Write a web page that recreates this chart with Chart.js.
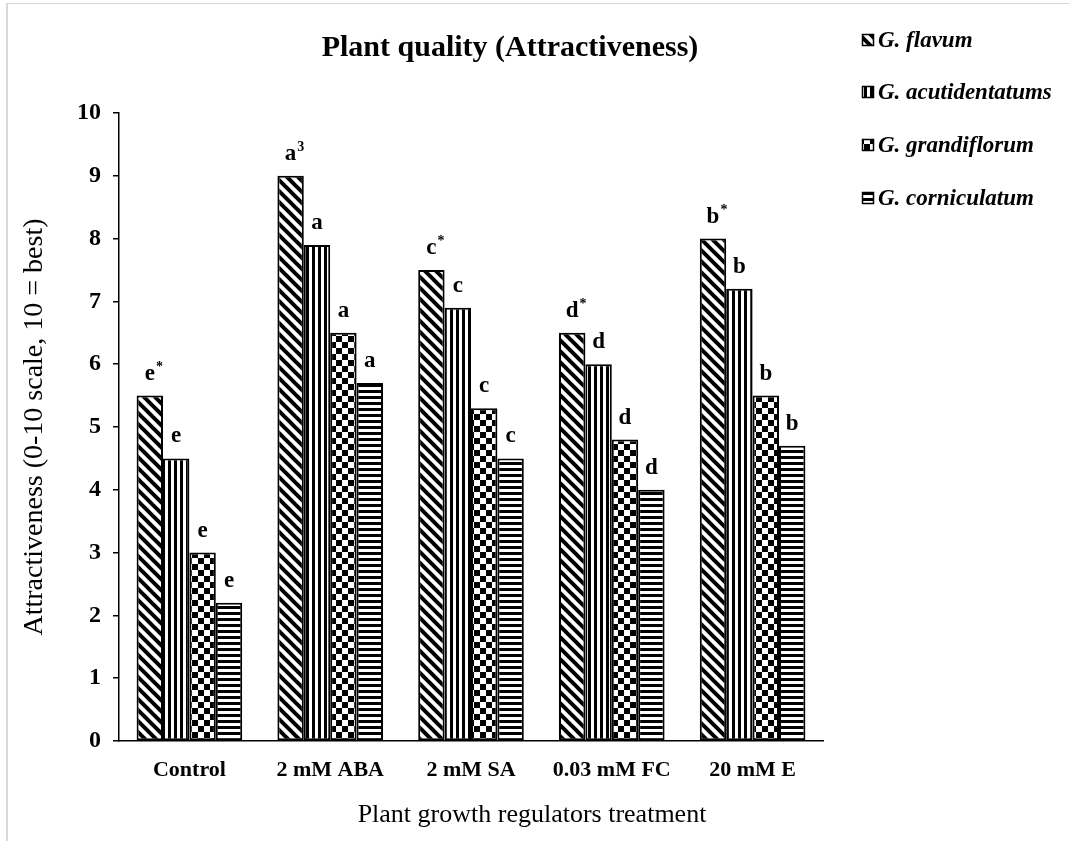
<!DOCTYPE html>
<html>
<head>
<meta charset="utf-8">
<script src="https://cdn.jsdelivr.net/npm/chart.js@4.4.1/dist/chart.umd.min.js"></script>
<style>
  html, body { margin: 0; padding: 0; background: #fff; overflow: hidden; }
  #frame { position: absolute; left: 6px; top: 3px; width: 1200px; height: 1000px;
           border-left: 2px solid #d9d9d9; border-top: 1px solid #d9d9d9; box-sizing: border-box; }
  #chart { position: absolute; left: 0; top: 0; }
</style>
</head>
<body>
<div id="frame"></div>
<canvas id="chart" width="1070" height="841"></canvas>
<script>
// Treatments and species
const treatments = ['Control', '2 mM ABA', '2 mM SA', '0.03 mM FC', '20 mM E'];
const species = ['G. flavum', 'G. acutidentatums', 'G. grandiflorum', 'G. corniculatum'];

// Attractiveness scores (0-10) per species, one value per treatment
const flavum = [5.5, 9.0, 7.5, 6.5, 8.0];
const acutidentatums = [4.5, 7.9, 6.9, 6.0, 7.2];
const grandiflorum = [3.0, 6.5, 5.3, 4.8, 5.5];
const corniculatum = [2.2, 5.7, 4.5, 4.0, 4.7];

// Significance letters per treatment; first species also carries a superscript mark
const groupLetters = ['e', 'a', 'c', 'd', 'b'];
const flavumMarks = ['*', '3', '*', '*', '*'];

const yTicks = [0, 1, 2, 3, 4, 5, 6, 7, 8, 9, 10];

const SERIF = '"Liberation Serif", "Times New Roman", serif';

// ---- fill patterns ----
function makeTile(w, h, draw) {
  const c = document.createElement('canvas');
  c.width = w; c.height = h;
  const g = c.getContext('2d');
  g.fillStyle = '#fff'; g.fillRect(0, 0, w, h);
  g.fillStyle = '#000'; g.strokeStyle = '#000';
  draw(g, w, h);
  return document.getElementById('chart').getContext('2d').createPattern(c, 'repeat');
}
const diagPattern = makeTile(11, 11, (g, w, h) => {
  g.lineWidth = 4;
  g.lineCap = 'square';
  for (const off of [-w, 0, w]) {
    g.beginPath(); g.moveTo(off, 0); g.lineTo(off + w, h); g.stroke();
  }
});
const vertPattern = makeTile(6, 6, (g) => { g.fillRect(0, 0, 3, 6); });
const checkPattern = makeTile(12, 12, (g) => { g.fillRect(0, 0, 6, 6); g.fillRect(6, 6, 6, 6); });
const horizPattern = makeTile(6, 6, (g) => { g.fillRect(0, 0, 6, 3); });

const patterns = [diagPattern, vertPattern, checkPattern, horizPattern];
const seriesValues = [flavum, acutidentatums, grandiflorum, corniculatum];

// ---- plugins: title, legend, value letters, x-axis title ----
const decorations = {
  id: 'decorations',
  afterDraw(chart) {
    const ctx = chart.ctx;
    ctx.save();
    // main title
    ctx.fillStyle = '#000';
    ctx.font = 'bold 30px ' + SERIF;
    ctx.textAlign = 'center';
    ctx.textBaseline = 'middle';
    ctx.fillText('Plant quality (Attractiveness)', 510, 48);

    // x-axis title
    ctx.font = '26px ' + SERIF;
    ctx.fillText('Plant growth regulators treatment', 532, 815);

    // legend
    const legendY = [40, 92, 145, 198];
    chart.data.datasets.forEach((ds, i) => {
      const y = legendY[i];
      ctx.fillStyle = ds.backgroundColor;
      ctx.fillRect(862, y - 6, 12, 12);
      ctx.strokeStyle = '#000';
      ctx.lineWidth = 1.5;
      ctx.strokeRect(862.5, y - 5.5, 11, 11);
      ctx.fillStyle = '#000';
      ctx.font = 'italic bold 23px ' + SERIF;
      ctx.textAlign = 'left';
      ctx.textBaseline = 'middle';
      ctx.fillText(ds.label, 878, y + 1);
    });
    ctx.restore();
  },
  afterDatasetsDraw(chart) {
    const ctx = chart.ctx;
    ctx.save();
    ctx.fillStyle = '#000';
    ctx.textBaseline = 'alphabetic';
    chart.data.datasets.forEach((ds, di) => {
      const meta = chart.getDatasetMeta(di);
      meta.data.forEach((bar, i) => {
        const letter = groupLetters[i];
        const base = bar.y - 16;
        ctx.font = 'bold 23px ' + SERIF;
        ctx.textAlign = 'center';
        ctx.fillText(letter, bar.x, base);
        if (di === 0) {
          const w = ctx.measureText(letter).width;
          ctx.font = 'bold 14px ' + SERIF;
          ctx.textAlign = 'left';
          ctx.fillText(flavumMarks[i], bar.x + w / 2 + 1, base - 9);
        }
      });
    });
    ctx.restore();
  }
};

const datasets = species.map((name, i) => ({
  label: name,
  data: seriesValues[i],
  backgroundColor: patterns[i],
  borderColor: '#000',
  borderWidth: 2,
  borderSkipped: false,
  categoryPercentage: 0.75,
  barPercentage: 1.0
}));

new Chart(document.getElementById('chart'), {
  type: 'bar',
  data: { labels: treatments, datasets },
  plugins: [decorations],
  options: {
    responsive: false,
    animation: false,
    events: [],
    layout: { padding: { top: 113, right: 247, bottom: 0, left: 0 } },
    plugins: { legend: { display: false }, title: { display: false }, tooltip: { enabled: false } },
    scales: {
      x: {
        afterFit(scale) { scale.height = 100; },
        grid: { display: true, drawOnChartArea: false, drawTicks: false },
        border: { display: true, color: '#000', width: 1.5 },
        ticks: { color: '#000', padding: 16, font: { family: SERIF, size: 22, weight: 'bold' }, maxRotation: 0 }
      },
      y: {
        min: 0, max: 10,
        afterFit(scale) { scale.width = 119; },
        afterBuildTicks(scale) { scale.ticks = yTicks.map(v => ({ value: v })); },
        grid: { display: true, drawOnChartArea: false, drawTicks: true, tickLength: 6, color: '#000', lineWidth: 1.5 },
        border: { display: true, color: '#000', width: 1.5 },
        ticks: { color: '#000', padding: 12, font: { family: SERIF, size: 24, weight: 'bold' } },
        title: {
          display: true,
          text: 'Attractiveness (0-10 scale, 10 = best)',
          color: '#000',
          font: { family: SERIF, size: 28 },
          padding: { top: 18, bottom: 0 }
        }
      }
    }
  }
});
</script>
</body>
</html>
